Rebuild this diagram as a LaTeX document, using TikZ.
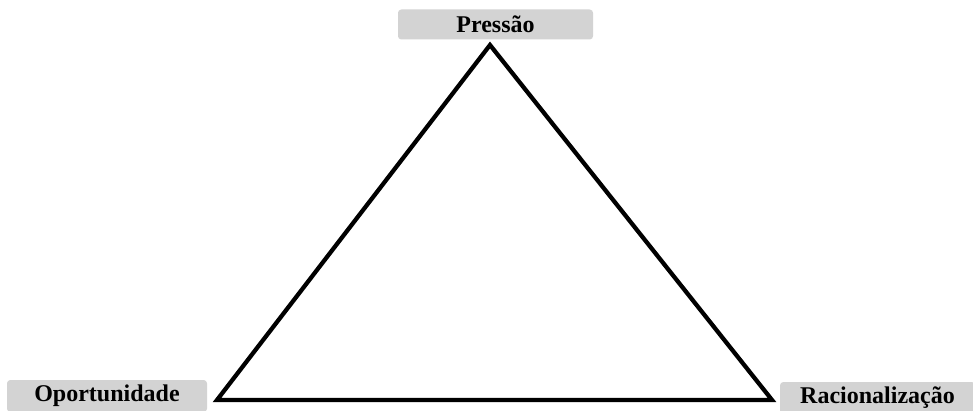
\documentclass[tikz,border=0pt]{standalone}
\usepackage{fontspec}
\setmainfont{Liberation Serif}
\definecolor{boxgrey}{HTML}{D3D3D3}
\begin{document}
\begin{tikzpicture}[x=0.75pt,y=-0.75pt,
  labelbox/.style={fill=boxgrey,rounded corners=2.5pt,minimum width=195*0.75pt,minimum height=30*0.75pt,inner sep=0pt,font=\fontsize{18}{21}\selectfont\bfseries},
  side/.style={line width=3.2pt,line join=miter}]
\useasboundingbox (0,0) rectangle (973,410);
\node[labelbox] (p) at (495.5,24.5) {Pressão};
\node[labelbox,minimum width=200*0.75pt,minimum height=32*0.75pt] (o) at (107,396) {Oportunidade};
\node[labelbox,minimum height=32*0.75pt] (r) at (877.5,398) {Racionalização};
\coordinate (top) at (490,45);
\coordinate (bl) at (217,400);
\coordinate (br) at (772,400);
\draw[side] (top) -- (bl) -- (br) -- cycle;
\end{tikzpicture}
\end{document}
